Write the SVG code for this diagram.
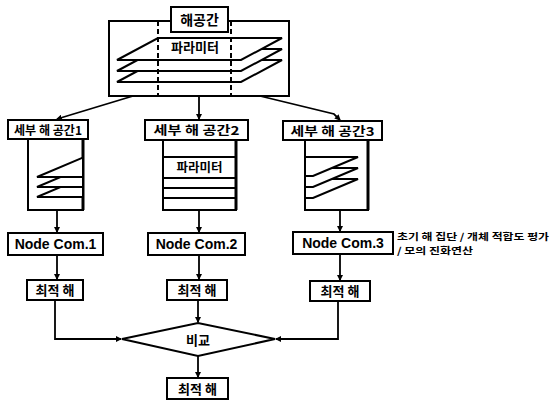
<svg xmlns="http://www.w3.org/2000/svg" width="550" height="405" viewBox="0 0 550 405">
<defs>
<style>
.box{fill:#fff;stroke:#000;stroke-width:2}
.pl{fill:#fff;stroke:#000;stroke-width:2;stroke-linejoin:miter}
.ln{fill:none;stroke:#000;stroke-width:1.8}
.ko{font-family:"Noto Sans CJK KR","Noto Sans",sans-serif;font-weight:bold;fill:#000;text-anchor:middle}
.en{font-family:"Liberation Sans",Arial,sans-serif;font-weight:bold;fill:#000;text-anchor:middle}
.note{font-family:"Noto Sans CJK KR","Noto Sans",sans-serif;font-weight:bold;fill:#000;font-size:9.5px}
.dash{stroke:#000;stroke-width:2;stroke-dasharray:5 3}
</style>
<marker id="arr" markerWidth="6" markerHeight="6" refX="5" refY="3" orient="auto" markerUnits="userSpaceOnUse">
<path d="M0,0 L6,3 L0,6 Z" fill="#000"/>
</marker>
<clipPath id="c1"><rect x="29" y="140" width="53" height="69"/></clipPath>
<clipPath id="c3"><rect x="306" y="141" width="61" height="68"/></clipPath>
</defs>

<g id="solution-space">
<rect class="box" x="109" y="21" width="180" height="75"/>
<polygon class="pl" points="158,60 282,60 241,82 117,82"/>
<polygon class="pl" points="158,49 282,49 241,71 117,71"/>
<polygon class="pl" points="158,38 282,38 241,60 117,60"/>
<line class="dash" x1="158" y1="21" x2="158" y2="96"/>
<line class="dash" x1="231" y1="21" x2="231" y2="96"/>
<text class="ko" x="195" y="52" font-size="13">파라미터</text>
<rect class="box" x="171" y="7" width="57" height="25"/>
<text class="ko" x="199.5" y="25" font-size="14">해공간</text>
</g>

<g id="sub1">
<rect class="box" x="28" y="139" width="55" height="71"/>
<line x1="83" y1="139" x2="83" y2="210" stroke="#000" stroke-width="3"/>
<g clip-path="url(#c1)">
<polygon class="pl" points="37,197 82,178 200,178 160,197"/>
<polygon class="pl" points="37,187 82,168 200,168 160,187"/>
<polygon class="pl" points="37,177 82,158 200,158 160,177"/>
</g>
<rect class="box" x="8" y="120" width="80" height="19"/>
<text class="ko" x="48" y="134.5" font-size="12" textLength="68" lengthAdjust="spacingAndGlyphs">세부 해 공간1</text>
</g>

<g id="sub2">
<rect class="box" x="163" y="140" width="73" height="70"/>
<line x1="236" y1="140" x2="236" y2="210" stroke="#000" stroke-width="3"/>
<line class="ln" x1="163" y1="157" x2="236" y2="157"/>
<line class="ln" x1="163" y1="178" x2="236" y2="178"/>
<line class="ln" x1="163" y1="188" x2="236" y2="188"/>
<line class="ln" x1="163" y1="198" x2="236" y2="198"/>
<text class="ko" x="199.5" y="172" font-size="12.5">파라미터</text>
<rect class="box" x="145" y="120" width="103" height="20"/>
<text class="ko" x="196.5" y="135" font-size="12" textLength="86" lengthAdjust="spacingAndGlyphs">세부 해 공간2</text>
</g>

<g id="sub3">
<rect class="box" x="305" y="140" width="63" height="70"/>
<line x1="368" y1="140" x2="368" y2="210" stroke="#000" stroke-width="3"/>
<g clip-path="url(#c3)">
<polygon class="pl" points="200,179 358,179 313,198 155,198"/>
<polygon class="pl" points="200,168 358,168 313,187 155,187"/>
<polygon class="pl" points="200,157 358,157 313,176 155,176"/>
</g>
<rect class="box" x="283" y="121" width="99" height="19"/>
<text class="ko" x="332.5" y="135.5" font-size="12" textLength="84" lengthAdjust="spacingAndGlyphs">세부 해 공간3</text>
</g>

<g id="node1">
<rect class="box" x="8" y="233" width="95" height="22"/>
<text class="en" x="55.5" y="249" font-size="14">Node Com.1</text>
</g>
<g id="node2">
<rect class="box" x="148" y="233" width="97" height="22"/>
<text class="en" x="196.5" y="249" font-size="14">Node Com.2</text>
</g>
<g id="node3">
<rect class="box" x="293" y="232" width="100" height="22"/>
<text class="en" x="343" y="248" font-size="14">Node Com.3</text>
</g>

<g id="note">
<text class="note" x="397" y="240" textLength="152" lengthAdjust="spacingAndGlyphs">초기 해 집단 / 개체 적합도 평가</text>
<text class="note" x="397" y="254" textLength="76" lengthAdjust="spacingAndGlyphs">/ 모의 진화연산</text>
</g>

<g id="opt1">
<rect class="box" x="27" y="280" width="56" height="20"/>
<text class="ko" x="55" y="295" font-size="13">최적 해</text>
</g>
<g id="opt2">
<rect class="box" x="167" y="280" width="60" height="20"/>
<text class="ko" x="197" y="295" font-size="13">최적 해</text>
</g>
<g id="opt3">
<rect class="box" x="310" y="281" width="60" height="20"/>
<text class="ko" x="340" y="296" font-size="13">최적 해</text>
</g>

<g id="compare">
<polygon class="box" points="122,339 198,323 275,339 198,356"/>
<text class="ko" x="198" y="344.5" font-size="13">비교</text>
</g>

<g id="final">
<rect class="box" x="167" y="378" width="61" height="21"/>
<text class="ko" x="197.5" y="393.5" font-size="13">최적 해</text>
</g>

<g id="connectors" class="ln" marker-end="url(#arr)">
<line x1="133" y1="96" x2="57" y2="119"/>
<line x1="199" y1="96" x2="199" y2="119"/>
<polyline points="260,96 334,114 340,120"/>
<line x1="57" y1="210" x2="57" y2="232"/>
<line x1="199" y1="210" x2="199" y2="232"/>
<line x1="340" y1="210" x2="340" y2="231"/>
<line x1="57" y1="255" x2="57" y2="279"/>
<line x1="199" y1="255" x2="199" y2="279"/>
<line x1="340" y1="254" x2="340" y2="280"/>
<polyline points="55,300 55,339 121,339"/>
<line x1="198" y1="300" x2="198" y2="322"/>
<polyline points="338,301 338,339 276,339"/>
<line x1="198" y1="356" x2="198" y2="377"/>
</g>
</svg>
